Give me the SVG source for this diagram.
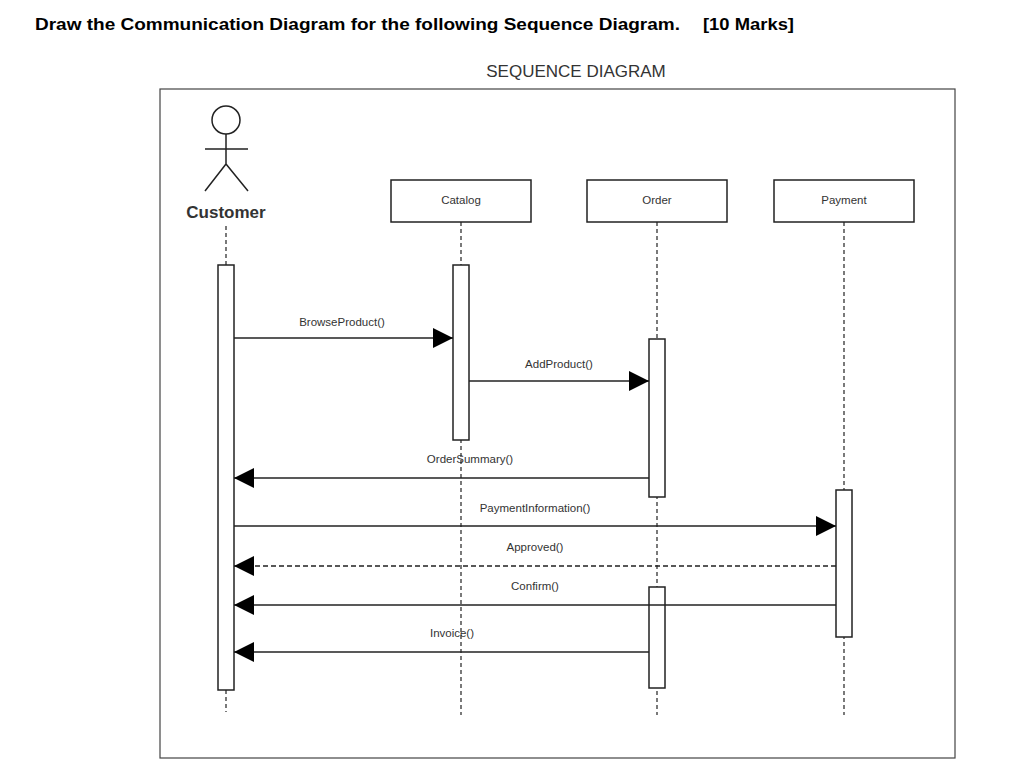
<svg xmlns="http://www.w3.org/2000/svg" width="1024" height="772" viewBox="0 0 1024 772">
<style>
.box{fill:#fff;stroke:#222;stroke-width:1.5}
.life{stroke:#222;stroke-width:1.2;stroke-dasharray:4,3;fill:none}
.msg{stroke:#222;stroke-width:1.5;fill:none}
.lbl{font-family:"Liberation Sans",Arial,sans-serif;font-size:11.5px;fill:#333;text-anchor:middle}
.ttl{font-family:"Liberation Sans",Arial,sans-serif;font-size:17px;font-weight:bold;fill:#000}
</style>
<defs>
<marker id="ah" markerWidth="20" markerHeight="20" refX="20" refY="10" orient="auto" markerUnits="userSpaceOnUse"><path d="M0,0 L20,10 L0,20 Z" fill="#000"/></marker>
</defs>
<rect width="1024" height="772" fill="#fff"/>
<text class="ttl" x="35" y="30" textLength="645" lengthAdjust="spacingAndGlyphs">Draw the Communication Diagram for the following Sequence Diagram.</text>
<text class="ttl" x="703" y="30" textLength="91" lengthAdjust="spacingAndGlyphs">[10 Marks]</text>
<text x="576" y="77" font-family="Liberation Sans,Arial,sans-serif" font-size="17" fill="#333" text-anchor="middle">SEQUENCE DIAGRAM</text>
<rect x="160" y="89" width="795" height="669" fill="none" stroke="#444" stroke-width="1.2"/>
<g id="lifelines">
<line class="life" x1="226" y1="226" x2="226" y2="265"/><line class="life" x1="226" y1="690" x2="226" y2="712"/>
<line class="life" x1="461" y1="222" x2="461" y2="715"/>
<line class="life" x1="657" y1="222" x2="657" y2="715"/>
<line class="life" x1="844" y1="222" x2="844" y2="715"/>
</g>
<g id="customer">
<circle cx="226" cy="120" r="14" fill="#fff" stroke="#222" stroke-width="1.5"/>
<path d="M226,134 V164 M205,149 H248 M205,191 L226,164 L248,191" stroke="#222" stroke-width="1.5" fill="none"/>
<text x="226" y="218" font-family="Liberation Sans,Arial,sans-serif" font-size="17" font-weight="bold" fill="#333" text-anchor="middle">Customer</text>
<rect class="box" x="218" y="265" width="16" height="425"/>
</g>
<g id="catalog">
<rect class="box" x="391" y="180" width="140" height="42"/>
<text class="lbl" x="461" y="204">Catalog</text>
<rect class="box" x="453" y="265" width="16" height="175"/>
</g>
<g id="order">
<rect class="box" x="587" y="180" width="140" height="42"/>
<text class="lbl" x="657" y="204">Order</text>
<rect class="box" x="649" y="339" width="16" height="158"/>
<rect class="box" x="649" y="587" width="16" height="101"/>
</g>
<g id="payment">
<rect class="box" x="774" y="180" width="140" height="42"/>
<text class="lbl" x="844" y="204">Payment</text>
<rect class="box" x="836" y="490" width="16" height="147"/>
</g>
<g id="connectors">
<line class="msg" x1="234" y1="338" x2="453" y2="338" marker-end="url(#ah)"/>
<text class="lbl" x="342" y="326">BrowseProduct()</text>
<line class="msg" x1="469" y1="381" x2="649" y2="381" marker-end="url(#ah)"/>
<text class="lbl" x="559" y="368">AddProduct()</text>
<line class="msg" x1="649" y1="478" x2="234" y2="478" marker-end="url(#ah)"/>
<text class="lbl" x="470" y="463">OrderSummary()</text>
<line class="msg" x1="234" y1="526" x2="836" y2="526" marker-end="url(#ah)"/>
<text class="lbl" x="535" y="512">PaymentInformation()</text>
<line class="msg" x1="836" y1="566" x2="234" y2="566" stroke-dasharray="5,3" marker-end="url(#ah)"/>
<text class="lbl" x="535" y="551">Approved()</text>
<line class="msg" x1="836" y1="605" x2="234" y2="605" marker-end="url(#ah)"/>
<text class="lbl" x="535" y="590">Confirm()</text>
<line class="msg" x1="649" y1="652" x2="234" y2="652" marker-end="url(#ah)"/>
<text class="lbl" x="452" y="637">Invoice()</text>
</g>
</svg>
